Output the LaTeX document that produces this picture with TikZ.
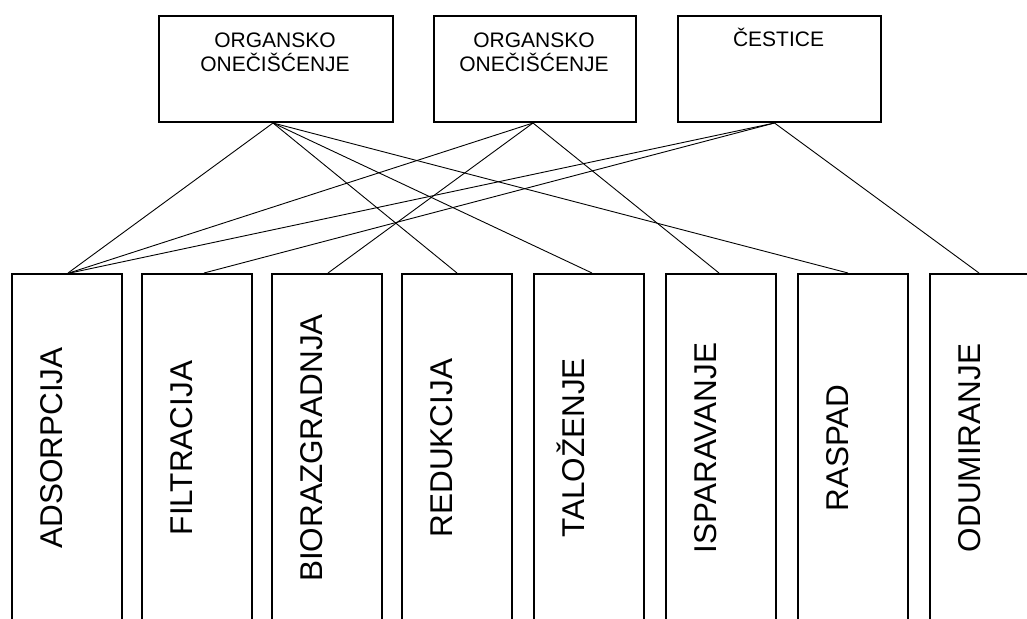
\documentclass[tikz,border=0pt]{standalone}
\usepackage{fontspec}
\setmainfont{Liberation Sans}
\begin{document}
\begin{tikzpicture}[x=1pt,y=1pt,
  topbox/.style={draw, line width=2pt, minimum height=106pt, inner sep=0pt, anchor=north west},
  botbox/.style={draw, line width=2pt, minimum width=110pt, minimum height=420pt, inner sep=0pt, anchor=north west},
  toptext/.style={font=\fontsize{21}{24}\selectfont, align=center, anchor=base, inner sep=0pt},
  bottext/.style={font=\fontsize{31.5}{36}\selectfont, rotate=90, anchor=base, inner sep=0pt},
  link/.style={line width=0.9pt}]
\useasboundingbox (0,0) rectangle (1027,-618);
\fill[white] (0,0) rectangle (1027,-618);
\clip (0,0) rectangle (1027,-618);
% top boxes
\node[topbox, minimum width=234pt] (o1) at (158,-15) {};
\node[topbox, minimum width=202pt] (o2) at (433,-15) {};
\node[topbox, minimum width=203pt] (ce) at (677,-15) {};
\node[toptext] (o1t) at (275,-71) {ORGANSKO\\ONEČIŠĆENJE};
\node[toptext] (o2t) at (534,-71) {ORGANSKO\\ONEČIŠĆENJE};
\node[toptext] (cet) at (778.5,-47) {ČESTICE};
% bottom boxes
\node[botbox] (ad) at (11,-273) {};
\node[botbox] (fi) at (141,-273) {};
\node[botbox] (bi) at (271,-273) {};
\node[botbox] (re) at (401,-273) {};
\node[botbox] (ta) at (533,-273) {};
\node[botbox] (is) at (665,-273) {};
\node[botbox] (ra) at (797,-273) {};
\node[botbox] (od) at (929,-273) {};
\node[bottext] (adt) at (62,-448) {ADSORPCIJA};
\node[bottext] (fit) at (192,-448) {FILTRACIJA};
\node[bottext] (bit) at (322,-448) {BIORAZGRADNJA};
\node[bottext] (ret) at (452,-448) {REDUKCIJA};
\node[bottext] (tat) at (584,-448) {TALOŽENJE};
\node[bottext] (ist) at (716,-448) {ISPARAVANJE};
\node[bottext] (rat) at (848,-448) {RASPAD};
\node[bottext] (odt) at (980,-448) {ODUMIRANJE};
% connectors
\coordinate (o1b) at ([xshift=-3pt]o1.south);
\coordinate (o2b) at ([xshift=-2pt]o2.south);
\coordinate (ceb) at ([xshift=-5pt]ce.south);
\draw[link] (o1b) -- ([xshift=1pt]ad.north);
\draw[link] (o1b) -- (re.north);
\draw[link] (o1b) -- ([xshift=3pt]ta.north);
\draw[link] (o1b) -- ([xshift=-5pt]ra.north);
\draw[link] (o2b) -- ([xshift=2pt]ad.north);
\draw[link] (o2b) -- ([xshift=1pt]bi.north);
\draw[link] (o2b) -- ([xshift=-2pt]is.north);
\draw[link] (ceb) -- ([xshift=3pt]ad.north);
\draw[link] (ceb) -- ([xshift=7pt]fi.north);
\draw[link] (ceb) -- ([xshift=-6pt]od.north);
\end{tikzpicture}
\end{document}
